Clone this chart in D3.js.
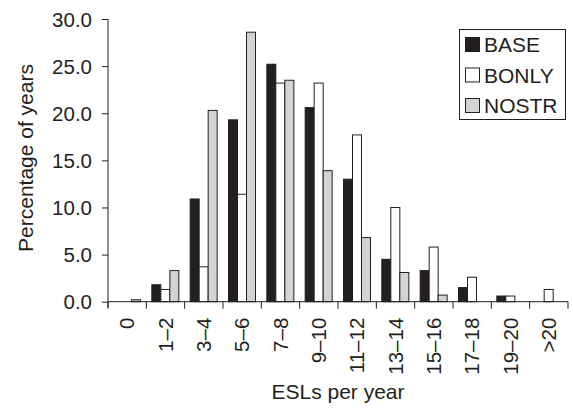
<!DOCTYPE html>
<html><head><meta charset="utf-8">
<script src="https://cdn.jsdelivr.net/npm/d3@7"></script>
<style>body{margin:0;background:#fff}svg{display:block}text{font-family:"Liberation Sans",Arial,sans-serif;fill:#231f20}</style>
</head><body>
<script>
const categories = ["0","1–2","3–4","5–6","7–8","9–10","11–12","13–14","15–16","17–18","19–20",">20"];
const seriesNames = ["BASE","BONLY","NOSTR"];
const base  = [0, 1.8, 10.9, 19.3, 25.2, 20.6, 13.0, 4.5, 3.3, 1.5, 0.6, 0];
const bonly = [0, 1.3, 3.7, 11.4, 23.2, 23.2, 17.7, 10.0, 5.8, 2.6, 0.6, 1.3];
const nostr = [0.2, 3.3, 20.3, 28.6, 23.5, 13.9, 6.8, 3.1, 0.7, 0, 0, 0];
const yTicks = [0, 5, 10, 15, 20, 25, 30];
const colors = ["#231f20", "#ffffff", "#d1d3d4"];

const W = 573, H = 411;
const svg = d3.select("body").append("svg").attr("width", W).attr("height", H);
const x0 = d3.scaleBand().domain(categories).range([108, 568]).padding(0);
const x1 = d3.scaleBand().domain(seriesNames).range([5.5, 32.5]).padding(0);
const y = d3.scaleLinear().domain([0, 30]).range([301.7, 19]);
const seriesVals = [base, bonly, nostr];

const data = [];
categories.forEach((c, i) => seriesNames.forEach((s, j) => data.push({c, s, v: seriesVals[j][i], j})));

svg.append("g").selectAll("rect").data(data.filter(d => d.v > 0)).join("rect")
  .attr("x", d => x0(d.c) + x1(d.s))
  .attr("y", d => y(d.v))
  .attr("width", x1.bandwidth())
  .attr("height", d => y(0) - y(d.v))
  .attr("fill", d => colors[d.j])
  .attr("stroke", "#231f20").attr("stroke-width", 1);

// y axis
const ya = svg.append("g").attr("transform", "translate(108,0)")
  .call(d3.axisLeft(y).tickValues(yTicks).tickSize(6).tickPadding(10).tickFormat(d3.format(".1f")));
ya.select(".domain").attr("stroke", "#231f20").attr("d", "M0," + y(30) + "V" + (y(0)+6));
ya.selectAll(".tick line").attr("stroke", "#231f20");
ya.selectAll("text").attr("font-size", 20.5).attr("dy", "0.35em");

// x axis
const xa = svg.append("g").attr("transform", "translate(0," + y(0) + ")");
xa.append("line").attr("x1", 108).attr("x2", 568).attr("stroke", "#231f20");
const bounds = categories.map(c => x0(c)).concat([x0.range()[1]]);
xa.selectAll("line.t").data(bounds).join("line").attr("class", "t")
  .attr("x1", d => d).attr("x2", d => d).attr("y1", 0).attr("y2", 7).attr("stroke", "#231f20");
xa.selectAll("text").data(categories).join("text")
  .attr("transform", d => "translate(" + (x0(d) + x0.bandwidth() / 2) + ",16) rotate(-90)")
  .attr("text-anchor", "end").attr("dy", "0.35em").attr("font-size", 20.5).text(d => d);

// titles
svg.append("text").attr("x", 338).attr("y", 399).attr("text-anchor", "middle").attr("font-size", 21).text("ESLs per year");
svg.append("text").attr("transform", "translate(33,158) rotate(-90)").attr("text-anchor", "middle").attr("font-size", 21).text("Percentage of years");

// legend
const lg = svg.append("g");
lg.append("rect").attr("x", 459.5).attr("y", 29.5).attr("width", 106).attr("height", 90)
  .attr("fill", "#fff").attr("stroke", "#231f20");
seriesNames.forEach((s, i) => {
  const yy = 37.5 + i * 30.5;
  lg.append("rect").attr("x", 465.5).attr("y", yy).attr("width", 14).attr("height", 14)
    .attr("fill", colors[i]).attr("stroke", "#231f20");
  lg.append("text").attr("x", 484).attr("y", yy + 14.5).attr("font-size", 21).text(s);
});
</script>
</body></html>
